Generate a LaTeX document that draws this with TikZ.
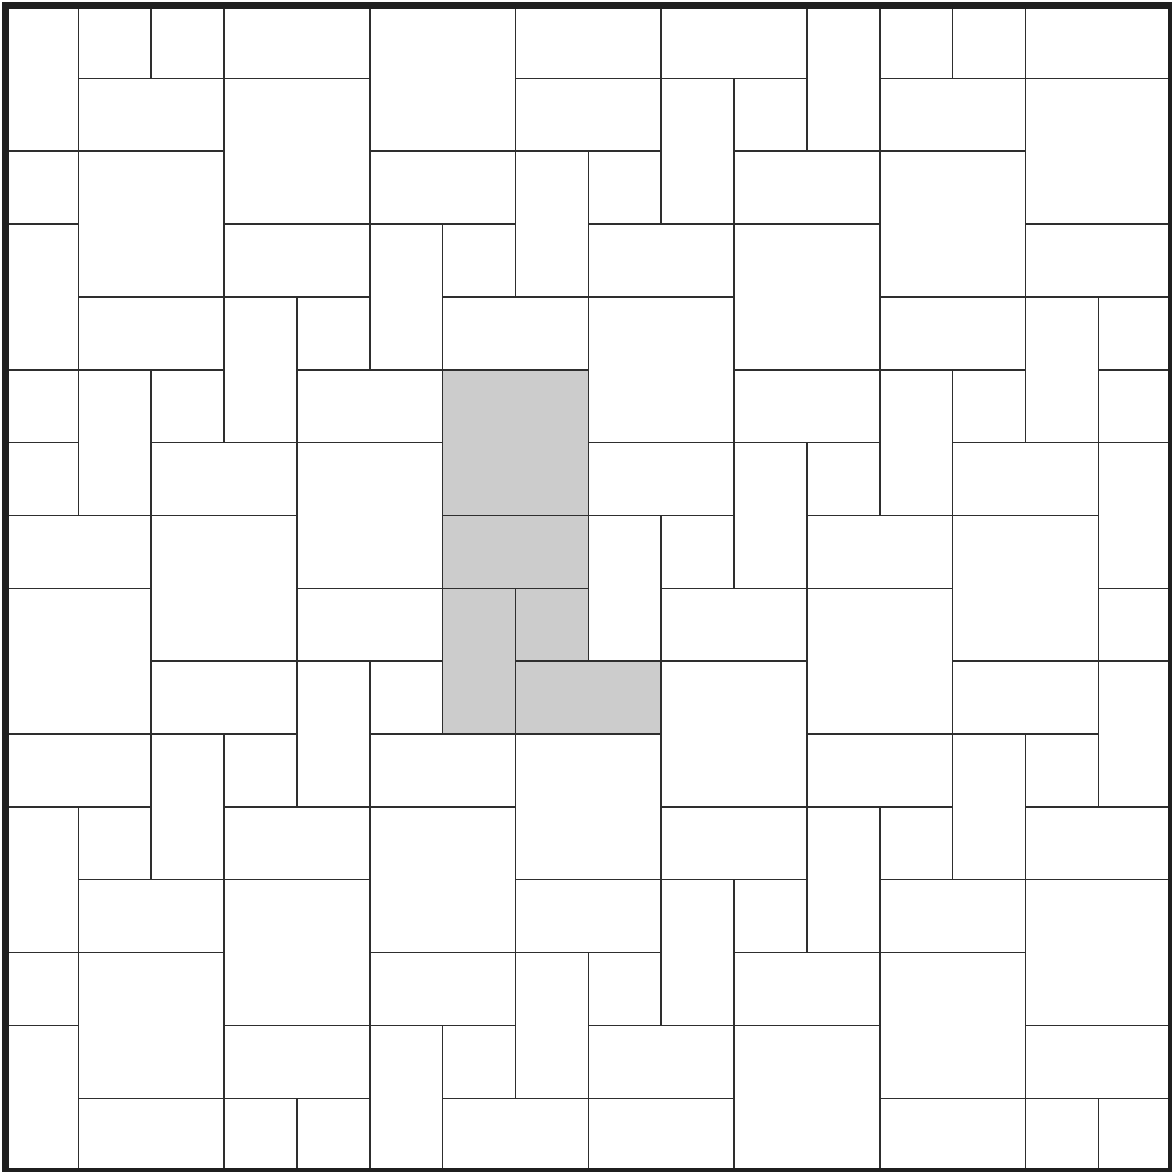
\documentclass[tikz,border=0pt]{standalone}
\begin{document}
\begin{tikzpicture}[x=1cm,y=1cm,
  tile/.style={draw=black!82,line width=0.6pt,fill=white},
  shaded/.style={draw=black!82,line width=0.6pt,fill=black!20},
  frame/.style={draw=black!88,line width=2.4pt}]
\useasboundingbox (-0.0755,0.0755) rectangle (15.999,-16.012);
\fill[white] (-0.0755,0.0755) rectangle (15.999,-16.012);
\foreach \x/\y/\w/\h in {
0/0/1/2,1/0/1/1,2/0/1/1,3/0/2/1,5/0/2/2,7/0/2/1,9/0/2/1,11/0/1/2,12/0/1/1,13/0/1/1,14/0/2/1,
1/1/2/1,3/1/2/2,7/1/2/1,9/1/1/2,10/1/1/1,12/1/2/1,14/1/2/2,
0/2/1/1,1/2/2/2,5/2/2/1,7/2/1/2,8/2/1/1,10/2/2/1,12/2/2/2,
0/3/1/2,3/3/2/1,5/3/1/2,6/3/1/1,8/3/2/1,10/3/2/2,14/3/2/1,
1/4/2/1,3/4/1/2,4/4/1/1,6/4/2/1,8/4/2/2,12/4/2/1,14/4/1/2,15/4/1/1,
0/5/1/1,1/5/1/2,2/5/1/1,4/5/2/1,10/5/2/1,12/5/1/2,13/5/1/1,15/5/1/1,
0/6/1/1,2/6/2/1,4/6/2/2,8/6/2/1,10/6/1/2,11/6/1/1,13/6/2/1,15/6/1/2,
0/7/2/1,2/7/2/2,8/7/1/2,9/7/1/1,11/7/2/1,13/7/2/2,
0/8/2/2,4/8/2/1,9/8/2/1,11/8/2/2,15/8/1/1,
2/9/2/1,4/9/1/2,5/9/1/1,9/9/2/2,13/9/2/1,15/9/1/2,
0/10/2/1,2/10/1/2,3/10/1/1,5/10/2/1,7/10/2/2,11/10/2/1,13/10/1/2,14/10/1/1,
0/11/1/2,1/11/1/1,3/11/2/1,5/11/2/2,9/11/2/1,11/11/1/2,12/11/1/1,14/11/2/1,
1/12/2/1,3/12/2/2,7/12/2/1,9/12/1/2,10/12/1/1,12/12/2/1,14/12/2/2,
0/13/1/1,1/13/2/2,5/13/2/1,7/13/1/2,8/13/1/1,10/13/2/1,12/13/2/2,
0/14/1/2,3/14/2/1,5/14/1/2,6/14/1/1,8/14/2/1,10/14/2/2,14/14/2/1,
1/15/2/1,3/15/1/1,4/15/1/1,6/15/2/1,8/15/2/1,12/15/2/1,14/15/1/1,15/15/1/1}
  {\path[tile] (\x,-\y) rectangle ++(\w,-\h);}
\foreach \x/\y/\w/\h in {6/5/2/2,6/7/2/1,6/8/1/2,7/8/1/1,7/9/2/1}
  {\path[shaded] (\x,-\y) rectangle ++(\w,-\h);}
\path[frame] (0,0) rectangle (16,-16);
\end{tikzpicture}
\end{document}
